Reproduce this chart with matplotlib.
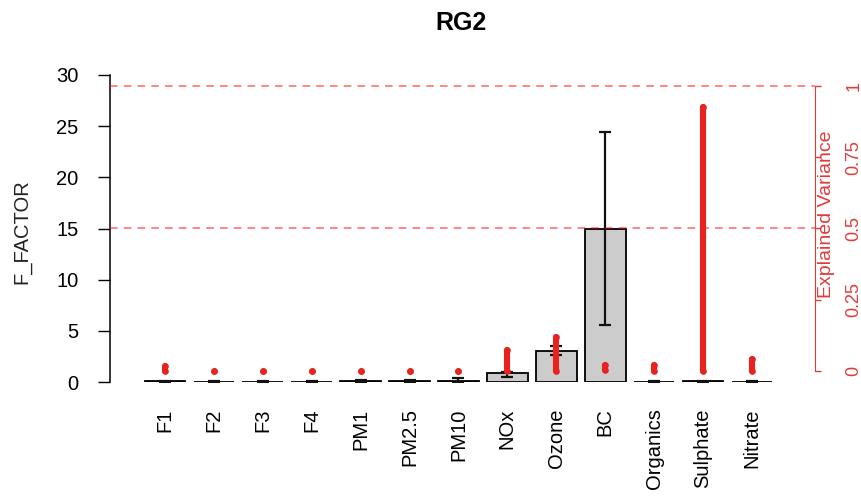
# bar chart of F factor per variable with explained variance strips on a second axis

import matplotlib
matplotlib.use('Agg')
import matplotlib.pyplot as plt
import numpy as np

plt.rcParams['font.family'] = ['Liberation Sans', 'DejaVu Sans']

names = ['F1', 'F2', 'F3', 'F4', 'PM1', 'PM2.5', 'PM10', 'NOx', 'Ozone', 'BC',
         'Organics', 'Sulphate', 'Nitrate']
f_mean = [0.05, 0.03, 0.03, 0.03, 0.08, 0.08, 0.12, 0.85, 3.05, 15.0, 0.03, 0.05, 0.03]
f_low = [0.0, 0.0, 0.0, 0.0, 0.0, 0.0, 0.0, 0.5, 2.6, 5.6, 0.0, 0.0, 0.0]
f_high = [0.1, 0.05, 0.05, 0.05, 0.2, 0.2, 0.35, 1.0, 3.5, 24.4, 0.05, 0.1, 0.05]

# explained variance range (min, max) of each variable
ev_min = [0.0, 0.0, 0.0, 0.0, 0.0, 0.0, 0.0, 0.0, 0.0, 0.003, 0.0, 0.0, 0.0]
ev_max = [0.018, 0.0, 0.0, 0.0, 0.0, 0.0, 0.0, 0.075, 0.12, 0.022, 0.022, 0.925, 0.042]
ev_lines = [0.5, 1.0]

red = '#e8231f'
axred = '#e23a3a'

fig = plt.figure(figsize=(8.62, 4.97), dpi=100)
ax = fig.add_axes([110 / 862, 1 - 382 / 497, 705 / 862, 307 / 497])

x = np.arange(len(names))
mean = np.array(f_mean)
yerr = [mean - np.array(f_low), np.array(f_high) - mean]
ax.bar(x, mean, width=0.833, color='#cccccc', edgecolor='black', linewidth=1.3, zorder=2)
ax.errorbar(x, mean, yerr=yerr, fmt='none', ecolor='#111111', elinewidth=1.6,
            capsize=4, capthick=1.6, zorder=3)

ax.set_xlim(-1.125, 13.29)
ax.set_ylim(0, 30)
ax.set_yticks([0, 5, 10, 15, 20, 25, 30])
ax.set_xticks(x)
ax.set_xticklabels(names, rotation=90, fontsize=14.5)
ax.tick_params(axis='x', length=0, pad=19)
ax.tick_params(axis='y', length=8.5, width=1, pad=14, labelsize=14.5)
for s in ['top', 'right', 'bottom']:
    ax.spines[s].set_visible(False)
ax.spines['left'].set_linewidth(1.1)
ax.text(-0.125, 0.49, 'F_FACTOR', transform=ax.transAxes, rotation=90,
        ha='center', va='center', fontsize=14.5, color='#222222')

ax2 = ax.twinx()
ax2.set_ylim(-0.0386, 1.0386)
for v in ev_lines:
    ax2.axhline(v, color='red', alpha=0.6, linewidth=1.1, dashes=(5, 4), zorder=1)
ax2.vlines(x, ev_min, ev_max, color=red, linewidth=4.4, capstyle='round', zorder=4)
ax2.plot(x, ev_min, 'o', color=red, markersize=4.8, markeredgewidth=0, zorder=5)
ax2.plot(x, ev_max, 'o', color=red, markersize=4.8, markeredgewidth=0, zorder=5)

ax2.set_yticks([0, 0.25, 0.5, 0.75, 1])
ax2.set_yticklabels(['0', '0.25', '0.5', '0.75', '1'])
ax2.tick_params(axis='y', colors=axred, length=4, width=1, pad=18, labelsize=13)
for lab in ax2.get_yticklabels():
    lab.set_rotation(90)
    lab.set_va('center')
    lab.set_ha('left')
for s in ['top', 'left', 'bottom']:
    ax2.spines[s].set_visible(False)
ax2.spines['right'].set_color(axred)
ax2.spines['right'].set_bounds(0, 1)
ax2.text(1.017, 0.547, 'Explained Variance', transform=ax2.transAxes, rotation=90,
         ha='center', va='center', fontsize=14, color=axred)

fig.text(461 / 862, 1 - 23 / 497, 'RG2', ha='center', va='center',
         fontsize=18, fontweight='bold')

fig.savefig('out.png', dpi=100)
